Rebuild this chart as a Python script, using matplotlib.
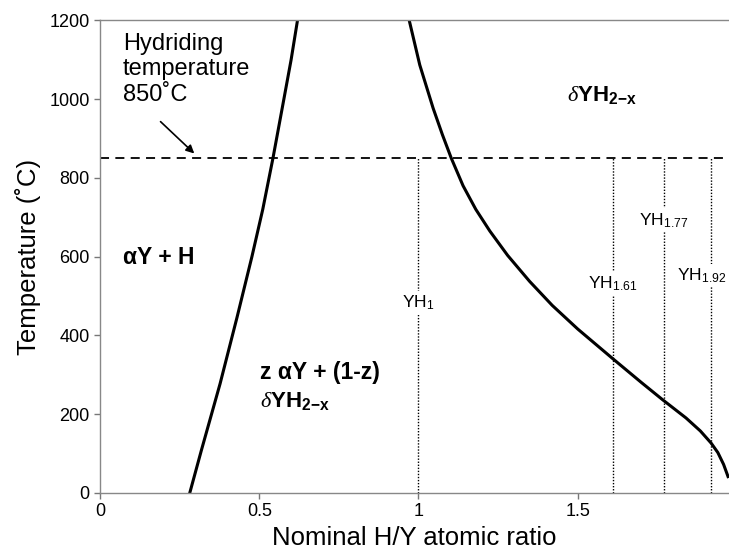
import matplotlib
matplotlib.use("Agg")
import matplotlib.pyplot as plt

plt.rcParams['font.family'] = ['Liberation Sans', 'DejaVu Sans']
plt.rcParams['mathtext.fontset'] = 'custom'
plt.rcParams['mathtext.rm'] = 'Liberation Sans'
plt.rcParams['mathtext.it'] = 'Liberation Serif:italic'
plt.rcParams['mathtext.bf'] = 'Liberation Sans:bold'

# Left phase boundary (alpha / two-phase)
left_x = [0.282, 0.318, 0.377, 0.430, 0.477, 0.511, 0.543, 0.575, 0.600, 0.620]
left_t = [0, 107, 277, 445, 600, 720, 850, 990, 1100, 1200]

# Right phase boundary (two-phase / delta)
right_x = [0.971, 1.004, 1.046, 1.075, 1.103, 1.140, 1.180, 1.224, 1.280, 1.349,
           1.420, 1.500, 1.611, 1.700, 1.767, 1.840, 1.885, 1.919, 1.940, 1.958, 1.972]
right_t = [1200, 1087, 977, 910, 850, 780, 720, 665, 603, 537,
           476, 416, 340, 280, 236, 190, 157, 126, 102, 72, 41]

hydriding_T = 850
compositions = [1.0, 1.61, 1.77, 1.92]
comp_labels = ['YH$_{1}$', 'YH$_{1.61}$', 'YH$_{1.77}$', 'YH$_{1.92}$']
label_T = [483, 531, 692, 552]
label_dx = [0.0, 0.0, 0.0, -0.03]

fig = plt.figure(figsize=(7.29, 5.49), dpi=100)
ax = fig.add_axes([0.1372, 0.1025, 0.8628, 0.8602])

ax.plot(left_x, left_t, color='black', lw=2.2, solid_joinstyle='round')
ax.plot(right_x, right_t, color='black', lw=2.2, solid_joinstyle='round')

ax.axhline(hydriding_T, color='black', lw=1.3, dashes=(5, 3.5))

for x in compositions:
    ax.plot([x, x], [0, hydriding_T], color='black', lw=1.0, linestyle=(0, (1, 1.2)))

for x, lab, t, dx in zip(compositions, comp_labels, label_T, label_dx):
    ax.text(x + dx, t, lab, ha='center', va='center', fontsize=12.5,
            bbox=dict(facecolor='white', edgecolor='none', pad=2.0))

ax.text(0.072, 1168, 'Hydriding\ntemperature\n850˚C', ha='left', va='top',
        fontsize=17, linespacing=1.2)
ax.annotate('', xy=(0.296, 862), xytext=(0.19, 943),
            arrowprops=dict(arrowstyle='-|>', color='black', lw=1.2,
                            mutation_scale=12, shrinkA=0, shrinkB=0))

ax.text(0.072, 598, 'αY + H', fontsize=16.5, fontweight='bold', ha='left', va='center')
ax.text(0.502, 305, 'z αY + (1-z)', fontsize=16.5, fontweight='bold', ha='left', va='center')
ax.text(0.502, 232, r'$\mathit{\delta}\mathbf{YH_{2\mathbf{-}x}}$', fontsize=16, ha='left', va='center')
ax.text(1.467, 1009, r'$\mathit{\delta}\mathbf{YH_{2\mathbf{-}x}}$', fontsize=16, ha='left', va='center')

ax.set_xlim(0, 1.975)
ax.set_ylim(0, 1200)
ax.set_xticks([0, 0.5, 1, 1.5])
ax.set_xticklabels(['0', '0.5', '1', '1.5'])
ax.set_yticks([0, 200, 400, 600, 800, 1000, 1200])
ax.tick_params(direction='out', length=4, width=1, colors='#777777', labelcolor='black',
               labelsize=13)
for s in ['left', 'bottom', 'top']:
    ax.spines[s].set_color('#888888')
    ax.spines[s].set_linewidth(1.0)
ax.spines['right'].set_visible(False)

ax.set_xlabel('Nominal H/Y atomic ratio', fontsize=18.5, labelpad=4)
ax.set_ylabel('Temperature (˚C)', fontsize=18.5, labelpad=6)

fig.savefig('out.png', dpi=100)
